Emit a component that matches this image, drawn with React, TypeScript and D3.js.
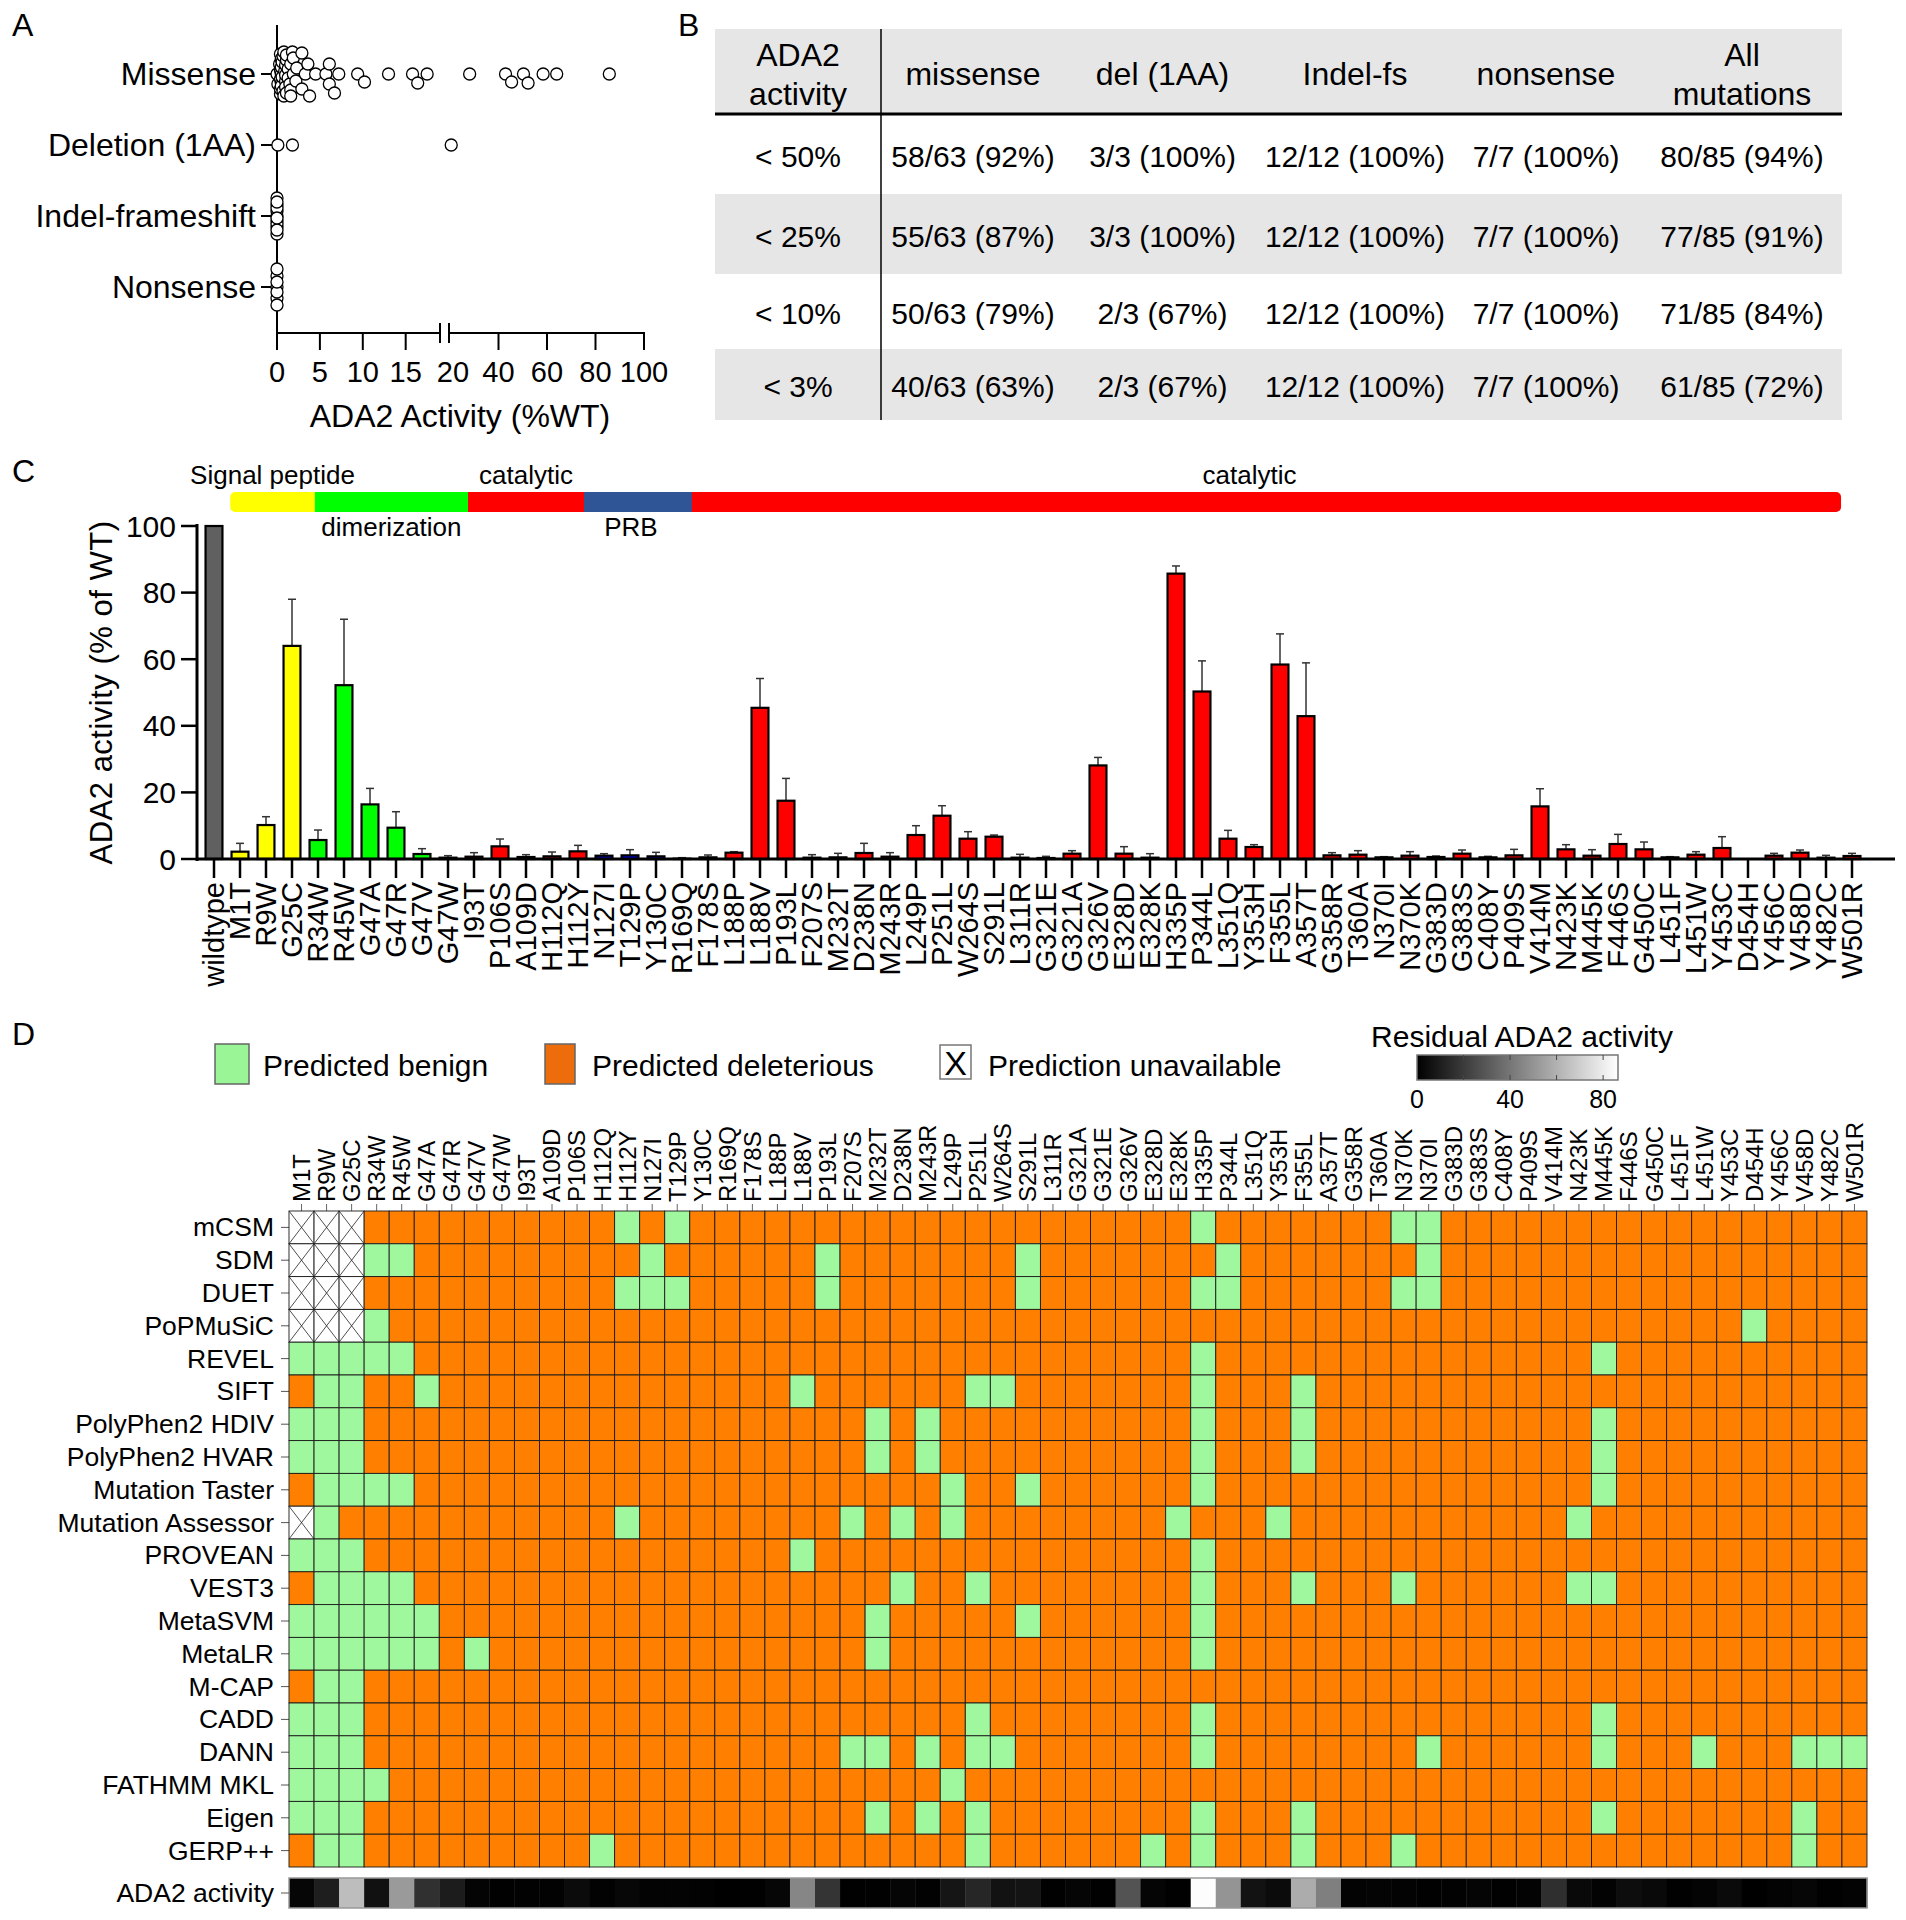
import React from 'react';
import * as d3 from 'd3';

const FONT = 'Liberation Sans, Arial, Helvetica, sans-serif';

// ---------------- Panel C data (bar order) ----------------
const barMutations = ['wildtype','M1T','R9W','G25C','R34W','R45W','G47A','G47R','G47V','G47W','I93T','P106S','A109D','H112Q','H112Y','N127I','T129P','Y130C','R169Q','F178S','L188P','L188V','P193L','F207S','M232T','D238N','M243R','L249P','P251L','W264S','S291L','L311R','G321E','G321A','G326V','E328D','E328K','H335P','P344L','L351Q','Y353H','F355L','A357T','G358R','T360A','N370I','N370K','G383D','G383S','C408Y','P409S','V414M','N423K','M445K','F446S','G450C','L451F','L451W','Y453C','D454H','Y456C','V458D','Y482C','W501R'];
const barActivity = [100,2.2,10.2,64,5.7,52.2,16.4,9.4,1.5,0.4,0.7,3.8,0.6,0.8,2.3,1.0,1.1,0.8,0.1,0.5,1.9,45.4,17.5,0.4,0.5,1.8,0.7,7.2,13.0,6.1,6.7,0.4,0.3,1.6,28.1,1.6,0.4,85.7,50.3,6.1,3.6,58.4,42.9,1.1,1.3,0.5,1.0,0.6,1.6,0.5,1.1,15.8,2.9,1.0,4.5,2.9,0.5,1.3,3.3,0,1.0,1.9,0.4,0.9];
const barErrorTop = [100,4.7,12.7,78,8.7,72,21.2,14.2,3.1,1.0,1.9,6.0,1.3,2.1,4.1,1.6,2.8,2.0,0.4,1.2,2.2,54.2,24.2,1.3,1.7,4.7,1.9,10.0,16.0,8.2,7.2,1.4,0.8,2.5,30.5,3.7,1.6,88.0,59.5,8.6,4.3,67.6,58.9,1.9,2.5,0.7,2.2,0.9,2.7,0.8,2.9,21.1,4.3,2.8,7.4,5.1,0.7,2.2,6.7,0,1.7,2.7,1.1,1.7];
const yTicksC = [0,20,40,60,80,100];
// protein domains, in bar-index units
const domainNames = ['Signal peptide','dimerization','catalytic','PRB','catalytic'];
const domainStart = [0.62,3.88,9.77,14.23,18.38];
const domainEnd = [3.88,9.77,14.23,18.38,62.58];
const domainLabelAbove = [true,false,true,false,true];
const domainColors = ['#ffff00','#00ff00','#ff0000','#2f5597','#ff0000'];
const barDomainColors = ['#ffff00','#00ff00','#ff0000','#0000ee','#ff0000'];

// ---------------- Panel A data ----------------
const dotCategories = ['Missense','Deletion (1AA)','Indel-frameshift','Nonsense'];
const deletionActivity = [0.1,1.8,20.5];
const indelActivity = [0,0,0,0,0,0,0,0,0,0,0,0];
const nonsenseActivity = [0,0,0,0,0,0,0];
const xTicksALow = [0,5,10,15];
const xTicksAHigh = [20,40,60,80,100];

// ---------------- Panel B data ----------------
const thresholds = ['< 50%','< 25%','< 10%','< 3%'];
const tableHeaders = [['ADA2','activity'],['missense'],['del (1AA)'],['Indel-fs'],['nonsense'],['All','mutations']];
const missenseCounts = ['58/63 (92%)','55/63 (87%)','50/63 (79%)','40/63 (63%)'];
const deletionCounts = ['3/3 (100%)','3/3 (100%)','2/3 (67%)','2/3 (67%)'];
const indelCounts = ['12/12 (100%)','12/12 (100%)','12/12 (100%)','12/12 (100%)'];
const nonsenseCounts = ['7/7 (100%)','7/7 (100%)','7/7 (100%)','7/7 (100%)'];
const allCounts = ['80/85 (94%)','77/85 (91%)','71/85 (84%)','61/85 (72%)'];

// ---------------- Panel D data ----------------
const heatColumns = ['M1T','R9W','G25C','R34W','R45W','G47A','G47R','G47V','G47W','I93T','A109D','P106S','H112Q','H112Y','N127I','T129P','Y130C','R169Q','F178S','L188P','L188V','P193L','F207S','M232T','D238N','M243R','L249P','P251L','W264S','S291L','L311R','G321A','G321E','G326V','E328D','E328K','H335P','P344L','L351Q','Y353H','F355L','A357T','G358R','T360A','N370K','N370I','G383D','G383S','C408Y','P409S','V414M','N423K','M445K','F446S','G450C','L451F','L451W','Y453C','D454H','Y456C','V458D','Y482C','W501R'];
const tools = ['mCSM','SDM','DUET','PoPMuSiC','REVEL','SIFT','PolyPhen2 HDIV','PolyPhen2 HVAR','Mutation Taster','Mutation Assessor','PROVEAN','VEST3','MetaSVM','MetaLR','M-CAP','CADD','DANN','FATHMM MKL','Eigen','GERP++'];
const benignByTool = [
  ['H112Y','T129P','H335P','N370K','N370I'],
  ['R34W','R45W','N127I','P193L','S291L','P344L','N370I'],
  ['H112Y','N127I','T129P','P193L','S291L','H335P','P344L','N370K','N370I'],
  ['R34W','D454H'],
  ['M1T','R9W','G25C','R34W','R45W','H335P','M445K'],
  ['R9W','G25C','G47A','L188V','P251L','W264S','H335P','F355L'],
  ['M1T','R9W','G25C','M232T','M243R','H335P','F355L','M445K'],
  ['M1T','R9W','G25C','M232T','M243R','H335P','F355L','M445K'],
  ['R9W','G25C','R34W','R45W','L249P','S291L','H335P','M445K'],
  ['R9W','H112Y','F207S','D238N','L249P','E328K','Y353H','N423K'],
  ['M1T','R9W','G25C','L188V','H335P'],
  ['R9W','G25C','R34W','R45W','D238N','P251L','H335P','F355L','N370K','N423K','M445K'],
  ['M1T','R9W','G25C','R34W','R45W','G47A','M232T','S291L','H335P'],
  ['M1T','R9W','G25C','R34W','R45W','G47A','G47V','M232T','H335P'],
  ['R9W','G25C'],
  ['M1T','R9W','G25C','P251L','H335P','M445K'],
  ['M1T','R9W','G25C','F207S','M232T','M243R','P251L','W264S','H335P','N370I','M445K','L451W','V458D','Y482C','W501R'],
  ['M1T','R9W','G25C','R34W','L249P'],
  ['M1T','R9W','G25C','M232T','M243R','P251L','H335P','F355L','M445K','V458D'],
  ['R9W','G25C','H112Q','P251L','E328D','H335P','F355L','N370K','V458D'],
];
const unavailableByTool = [
  ['M1T','R9W','G25C'],['M1T','R9W','G25C'],['M1T','R9W','G25C'],['M1T','R9W','G25C'],
  [],[],[],[],[],['M1T'],[],[],[],[],[],[],[],[],[],[],
];
const legendItems = ['Predicted benign','Predicted deleterious','Prediction unavailable'];
const colorbarTicks = [0,20,40,60,80];
const colorbarLabels = [0,40,80];
const colorbarMax = 86.4;

// ---------------- helpers ----------------
function beeswarm(values: number[], xf: (v: number) => number, diam: number, maxOff: number) {
  const order = values.map((_, i) => i).sort((a, b) => values[a] - values[b]);
  const placed: { x: number; y: number }[] = [];
  const cands: number[] = [];
  for (let o = 0; o <= maxOff; o += 1) { cands.push(o); if (o > 0) cands.push(-o); }
  for (const i of order) {
    const x = xf(values[i]);
    let chosen = 0, bestMin = -1;
    for (const c of cands) {
      let minD = Infinity;
      for (const p of placed) {
        const d = Math.hypot(p.x - x, p.y - c);
        if (d < minD) minD = d;
      }
      if (minD >= diam) { chosen = c; break; }
      if (minD > bestMin) { bestMin = minD; chosen = c; }
    }
    placed.push({ x, y: chosen });
  }
  return placed;
}

const GREEN = '#a0f89e';
const ORANGE = '#ff8000';

export default function App() {
  // ===== Panel A =====
  const xLow = d3.scaleLinear().domain([0, 19]).range([277, 440]);
  const xHigh = d3.scaleLinear().domain([20, 100]).range([450, 644]);
  const xA = (v: number) => (v < 19.5 ? xLow(Math.min(v, 19)) : xHigh(v));
  const yA = d3.scalePoint<string>().domain(dotCategories).range([74, 287]);
  const missenseActivity = barActivity.slice(1);
  const groups = [missenseActivity, deletionActivity, indelActivity, nonsenseActivity];
  const swarms = groups.map((g, gi) => beeswarm(g, xA, gi === 0 ? 10 : 11, gi === 0 ? 22 : 18));

  // ===== Panel B =====
  const tableBounds = [715, 881, 1065, 1260, 1450, 1642, 1842];
  const tableTop = 29, headBottom = 114;
  const rowBounds = [114, 194, 274, 349, 420];
  const tableBody = [thresholds, missenseCounts, deletionCounts, indelCounts, nonsenseCounts, allCounts];

  // ===== Panel C =====
  const xC = d3.scaleBand<string>().domain(barMutations).range([201, 1865]).paddingInner(0.35).paddingOuter(0.175);
  const xIdx = d3.scaleLinear().domain([0, barMutations.length - 1]).range([214, 1852]);
  const yC = d3.scaleLinear().domain([0, 100]).range([859, 526]);
  const bw = xC.bandwidth();
  const barColor = (i: number) => {
    if (i === 0) return '#606060';
    for (let k = 0; k < domainStart.length; k++) if (i >= domainStart[k] && i < domainEnd[k]) return barDomainColors[k];
    return '#ff0000';
  };
  const labelShift = [0, 0, 0, -7, -17];

  // ===== Panel D =====
  const xD = d3.scaleBand<string>().domain(heatColumns).range([289, 1867]);
  const yD = d3.scaleBand<string>().domain(tools).range([1211, 1867]);
  const cw = xD.bandwidth(), ch = yD.bandwidth();
  const activityByName: Record<string, number> = {};
  barMutations.forEach((m, i) => { activityByName[m] = barActivity[i]; });
  const gray = d3.scaleLinear<string>().domain([0, colorbarMax]).range(['#000000', '#ffffff']).clamp(true);
  const cb = d3.scaleLinear().domain([0, colorbarMax]).range([1417, 1618]);

  return (
    <svg width={1906} height={1920} style={{ position: 'absolute', left: 0, top: 0, background: '#fff' }} fontFamily={FONT}>
      <defs>
        <linearGradient id="cbGrad" x1="0" x2="1" y1="0" y2="0">
          <stop offset="0%" stopColor="#000" />
          <stop offset="100%" stopColor="#fff" />
        </linearGradient>
        <clipPath id="domClip">
          <rect x={xIdx(domainStart[0])} y={492} width={xIdx(domainEnd[domainEnd.length - 1]) - xIdx(domainStart[0])} height={20} rx={5} />
        </clipPath>
      </defs>
      <rect x={0} y={0} width={1906} height={1920} fill="#fff" />

      {/* Panel letters */}
      <text x={12} y={36} fontSize={32}>A</text>
      <text x={678} y={36} fontSize={32}>B</text>
      <text x={12} y={482} fontSize={32}>C</text>
      <text x={12} y={1045} fontSize={32}>D</text>

      {/* ===== Panel A ===== */}
      <g>
        <line x1={277} x2={277} y1={25} y2={334} stroke="#000" strokeWidth={2} />
        <line x1={276} x2={440} y1={333} y2={333} stroke="#000" strokeWidth={2} />
        <line x1={449} x2={645} y1={333} y2={333} stroke="#000" strokeWidth={2} />
        <line x1={440} x2={440} y1={323} y2={343} stroke="#000" strokeWidth={2} />
        <line x1={449} x2={449} y1={323} y2={343} stroke="#000" strokeWidth={2} />
        {xTicksALow.map(t => (
          <g key={'tl' + t}>
            <line x1={xLow(t)} x2={xLow(t)} y1={333} y2={350} stroke="#000" strokeWidth={2} />
            <text x={xLow(t)} y={372} fontSize={29} textAnchor="middle" dominantBaseline="central">{t}</text>
          </g>
        ))}
        {xTicksAHigh.map(t => (
          <g key={'th' + t}>
            {t > 20 && <line x1={xHigh(t)} x2={xHigh(t)} y1={333} y2={350} stroke="#000" strokeWidth={2} />}
            <text x={xHigh(t) + (t === 20 ? 3 : 0)} y={372} fontSize={29} textAnchor="middle" dominantBaseline="central">{t}</text>
          </g>
        ))}
        <text x={460} y={416} fontSize={32} textAnchor="middle" dominantBaseline="central">ADA2 Activity (%WT)</text>
        {dotCategories.map(c => (
          <g key={c}>
            <line x1={261} x2={277} y1={yA(c)!} y2={yA(c)!} stroke="#000" strokeWidth={2} />
            <text x={256} y={yA(c)!} fontSize={32} textAnchor="end" dominantBaseline="central">{c}</text>
          </g>
        ))}
        {swarms.map((pts, gi) => pts.map((p, i) => (
          <circle key={gi + '-' + i} cx={p.x} cy={yA(dotCategories[gi])! + p.y} r={6} fill="#fff" stroke="#000" strokeWidth={1.3} />
        )))}
      </g>

      {/* ===== Panel B ===== */}
      <g>
        <rect x={tableBounds[0]} y={tableTop} width={tableBounds[6] - tableBounds[0]} height={headBottom - tableTop} fill="#e6e6e6" />
        {thresholds.map((_, r) => r % 2 === 1 && (
          <rect key={'s' + r} x={tableBounds[0]} y={rowBounds[r]} width={tableBounds[6] - tableBounds[0]} height={rowBounds[r + 1] - rowBounds[r]} fill="#e6e6e6" />
        ))}
        <line x1={tableBounds[0]} x2={tableBounds[6]} y1={headBottom} y2={headBottom} stroke="#000" strokeWidth={3} />
        <line x1={tableBounds[1]} x2={tableBounds[1]} y1={tableTop} y2={rowBounds[4]} stroke="#000" strokeWidth={1.5} />
        {tableHeaders.map((h, c) => {
          const cx = (tableBounds[c] + tableBounds[c + 1]) / 2;
          const cy = 74;
          return h.map((line, li) => (
            <text key={'h' + c + li} x={cx} y={h.length === 1 ? cy : cy - 19.5 + li * 39} fontSize={32} textAnchor="middle" dominantBaseline="central">{line}</text>
          ));
        })}
        {tableBody.map((col, c) => col.map((v, r) => (
          <text key={'b' + c + '-' + r} x={(tableBounds[c] + tableBounds[c + 1]) / 2} y={(rowBounds[r] + rowBounds[r + 1]) / 2 + 2} fontSize={30} textAnchor="middle" dominantBaseline="central">{v}</text>
        )))}
      </g>

      {/* ===== Panel C ===== */}
      <g>
        <g clipPath="url(#domClip)">
          {domainNames.map((d, k) => (
            <rect key={'dm' + k} x={xIdx(domainStart[k])} y={492} width={xIdx(domainEnd[k]) - xIdx(domainStart[k]) + 0.5} height={20} fill={domainColors[k]} />
          ))}
        </g>
        {domainNames.map((d, k) => (
          <text key={'dl' + k} x={(xIdx(domainStart[k]) + xIdx(domainEnd[k])) / 2 + labelShift[k]} y={domainLabelAbove[k] ? 484 : 536} fontSize={26} textAnchor="middle">{d}</text>
        ))}
        <line x1={197} x2={197} y1={524} y2={861} stroke="#000" strokeWidth={3} />
        {yTicksC.map(t => (
          <g key={'yc' + t}>
            <line x1={181} x2={197} y1={yC(t)} y2={yC(t)} stroke="#000" strokeWidth={2.5} />
            <text x={176} y={yC(t)} fontSize={30} textAnchor="end" dominantBaseline="central">{t}</text>
          </g>
        ))}
        <text transform={`translate(101, ${(yC(0) + yC(100)) / 2}) rotate(-90)`} fontSize={31} textAnchor="middle" dominantBaseline="central" letterSpacing={0.5}>ADA2 activity (% of WT)</text>
        {barMutations.map((m, i) => {
          const x0 = xC(m)!;
          const cx = x0 + bw / 2;
          const v = barActivity[i];
          const e = barErrorTop[i];
          return (
            <g key={'bar' + m}>
              {e > v && (
                <g>
                  <line x1={cx} x2={cx} y1={yC(v)} y2={yC(e)} stroke="#333" strokeWidth={1.5} />
                  <line x1={cx - 4} x2={cx + 4} y1={yC(e)} y2={yC(e)} stroke="#333" strokeWidth={1.5} />
                </g>
              )}
              {v > 0 && (
                <rect x={x0} y={yC(v)} width={bw} height={yC(0) - yC(v)} fill={barColor(i)} stroke="#000" strokeWidth={2.2} />
              )}
              <line x1={cx} x2={cx} y1={859} y2={878} stroke="#000" strokeWidth={2.5} />
              <text transform={`translate(${cx}, 882) rotate(-90)`} fontSize={29} textAnchor="end" dy="0.35em">{m}</text>
            </g>
          );
        })}
        <line x1={196} x2={1895} y1={859} y2={859} stroke="#000" strokeWidth={3} />
      </g>

      {/* ===== Panel D ===== */}
      <g>
        <rect x={215} y={1044} width={34} height={40} fill="#9af597" stroke="#666" strokeWidth={1.5} />
        <text x={263} y={1065} fontSize={30} dominantBaseline="central">{legendItems[0]}</text>
        <rect x={545} y={1044} width={30} height={40} fill="#ed6d0c" stroke="#666" strokeWidth={1.5} />
        <text x={592} y={1065} fontSize={30} dominantBaseline="central">{legendItems[1]}</text>
        <rect x={940} y={1045} width={31} height={34} fill="#fff" stroke="#777" strokeWidth={1.5} />
        <text x={955.5} y={1063} fontSize={34} textAnchor="middle" dominantBaseline="central">X</text>
        <text x={988} y={1065} fontSize={30} dominantBaseline="central">{legendItems[2]}</text>
        <text x={1522} y={1036} fontSize={30} textAnchor="middle" dominantBaseline="central">Residual ADA2 activity</text>
        <rect x={cb(0)} y={1055} width={cb(colorbarMax) - cb(0)} height={25} fill="url(#cbGrad)" stroke="#777" strokeWidth={1.5} />
        {colorbarTicks.filter(t => t > 0).map(t => (
          <g key={'cbt' + t}>
            <line x1={cb(t)} x2={cb(t)} y1={1055} y2={1060} stroke="#444" strokeWidth={1} />
            <line x1={cb(t)} x2={cb(t)} y1={1075} y2={1080} stroke="#444" strokeWidth={1} />
          </g>
        ))}
        {colorbarLabels.map(t => (
          <text key={'cbl' + t} x={cb(t)} y={1099} fontSize={25} textAnchor="middle" dominantBaseline="central">{t}</text>
        ))}
        {heatColumns.map(c => {
          const cx = xD(c)! + cw / 2;
          return (
            <g key={'hc' + c}>
              <line x1={cx} x2={cx} y1={1204} y2={1211} stroke="#666" strokeWidth={1} />
              <text transform={`translate(${cx}, 1202) rotate(-90)`} fontSize={24} dy="0.35em">{c}</text>
            </g>
          );
        })}
        {tools.map(t => {
          const cy = yD(t)! + ch / 2;
          return (
            <g key={'rl' + t}>
              <line x1={281} x2={289} y1={cy} y2={cy} stroke="#555" strokeWidth={1} />
              <text x={274} y={cy} fontSize={26.5} textAnchor="end" dominantBaseline="central">{t}</text>
            </g>
          );
        })}
        {tools.map((t, ti) => heatColumns.map(c => {
          const x = xD(c)!, y = yD(t)!;
          const na = unavailableByTool[ti].includes(c);
          const benign = benignByTool[ti].includes(c);
          return (
            <g key={'cell' + ti + c}>
              <rect x={x} y={y} width={cw} height={ch} fill={na ? '#fff' : benign ? GREEN : ORANGE} stroke="#1a1a1a" strokeWidth={0.9} />
              {na && (
                <g stroke="#222" strokeWidth={0.8}>
                  <line x1={x} y1={y} x2={x + cw} y2={y + ch} />
                  <line x1={x + cw} y1={y} x2={x} y2={y + ch} />
                </g>
              )}
            </g>
          );
        }))}
        {heatColumns.map(c => (
          <rect key={'st' + c} x={xD(c)!} y={1878} width={cw + 0.4} height={30} fill={gray(activityByName[c])} />
        ))}
        <rect x={289} y={1878} width={1578} height={30} fill="none" stroke="#999" strokeWidth={1.5} />
        <line x1={281} x2={289} y1={1893} y2={1893} stroke="#555" strokeWidth={1} />
        <text x={274} y={1893} fontSize={26.5} textAnchor="end" dominantBaseline="central">ADA2 activity</text>
      </g>
    </svg>
  );
}
